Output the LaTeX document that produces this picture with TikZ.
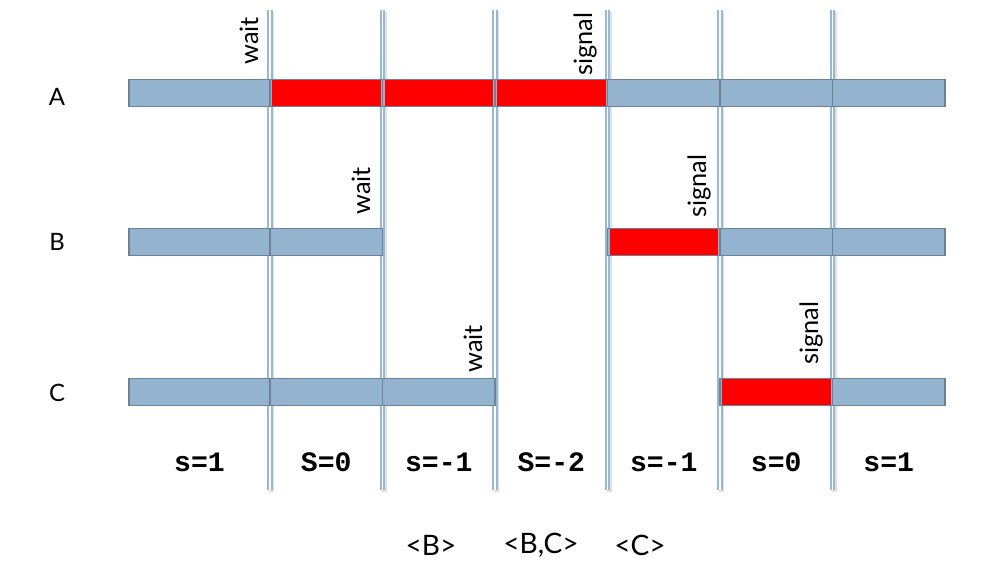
\documentclass[tikz,border=0pt]{standalone}
\usepackage{fontspec}
\setmainfont{Lato}
\newfontfamily\codefont{Liberation Mono}
\usepackage{xcolor}
\definecolor{barblue}{RGB}{148,179,207}
\definecolor{barline}{RGB}{108,130,152}
\definecolor{gridblue}{RGB}{152,185,214}
\definecolor{lockred}{RGB}{255,0,0}
\usepackage{tikz}
\usetikzlibrary{positioning}

\begin{document}
\begin{tikzpicture}[
        x=0.025cm, y=-0.025cm,
        grid/.style={draw=gridblue, line width=1.3pt, double=white, double distance=1.1pt},
        gridshade/.style={draw=black!12, line width=3.5pt},
        seg/.style={rectangle, draw=barline, fill=barblue, line width=1pt, minimum width=2.8125cm, minimum height=0.68cm, inner sep=0pt},
        first/.style={seg, minimum width=3.525cm},
        crit/.style={rectangle, draw=lockred, fill=lockred, minimum width=2.68cm, minimum height=0.62cm, inner sep=0pt},
        proc/.style={font=\fontsize{17}{20}\selectfont},
        tag/.style={rotate=90, anchor=base west, inner sep=0pt, font=\fontsize{18}{21}\selectfont},
        count/.style={font=\codefont\bfseries\fontsize{20}{24}\selectfont},
        queue/.style={font=\fontsize{20}{24}\selectfont}
    ]
        \useasboundingbox (0,0) rectangle (986,568);

        % time lines
        \foreach \x [count=\i] in {270,382.5,495,607.5,720,832.5} {
            \coordinate (t\i) at (\x,10);
            \coordinate (b\i) at (\x,490);
            \draw[gridshade] ([xshift=1.2pt,yshift=-1.2pt]t\i) -- ([xshift=1.2pt,yshift=-1.2pt]b\i);
            \draw[grid] (t\i) -- (b\i);
        }

        % processes
        \node[proc] (A) at (57,97) {A};
        \node[proc] (B) at (57,242) {B};
        \node[proc] (C) at (57,393) {C};

        % row A
        \node[first] (a0) at (199.5,93) {};
        \node[seg] (a1) at (326.25,93) {};
        \node[seg] (a2) at (438.75,93) {};
        \node[seg] (a3) at (551.25,93) {};
        \node[seg] (a4) at (663.75,93) {};
        \node[seg] (a5) at (776.25,93) {};
        \node[seg] (a6) at (888.75,93) {};
        \node[crit] (ra1) at (a1) {};
        \node[crit] (ra2) at (a2) {};
        \node[crit] (ra3) at (a3) {};

        % row B
        \node[first] (b0) at (199.5,242) {};
        \node[seg] (bb1) at (326.25,242) {};
        \node[seg] (bb4) at (663.75,242) {};
        \node[seg] (bb5) at (776.25,242) {};
        \node[seg] (bb6) at (888.75,242) {};
        \node[crit] (rb4) at (bb4) {};

        % row C
        \node[first] (c0) at (199.5,392) {};
        \node[seg] (c1) at (326.25,392) {};
        \node[seg] (c2) at (438.75,392) {};
        \node[seg] (c5) at (776.25,392) {};
        \node[seg] (c6) at (888.75,392) {};
        \node[crit] (rc5) at (c5) {};

        % wait / signal
        \node[tag] (waitA) at (258,65) {wait};
        \node[tag] (waitB) at (370,215) {wait};
        \node[tag] (waitC) at (482,373) {wait};
        \node[tag] (sigA) at (592,76) {signal};
        \node[tag] (sigB) at (706,218) {signal};
        \node[tag] (sigC) at (818,365) {signal};

        % semaphore value
        \node[count] (s0) at (199.5,462) {s=1};
        \node[count] (s1) at (326.25,462) {S=0};
        \node[count] (s2) at (438.75,462) {s=-1};
        \node[count] (s3) at (551.25,462) {S=-2};
        \node[count] (s4) at (663.75,462) {s=-1};
        \node[count] (s5) at (776.25,462) {s=0};
        \node[count] (s6) at (888.75,462) {s=1};

        % waiting queue
        \node[queue] (q1) at (431,545) {<B>};
        \node[queue] (q2) at (541,545) {<B,C>};
        \node[queue] (q3) at (640,545) {<C>};
    \end{tikzpicture}
\end{document}
